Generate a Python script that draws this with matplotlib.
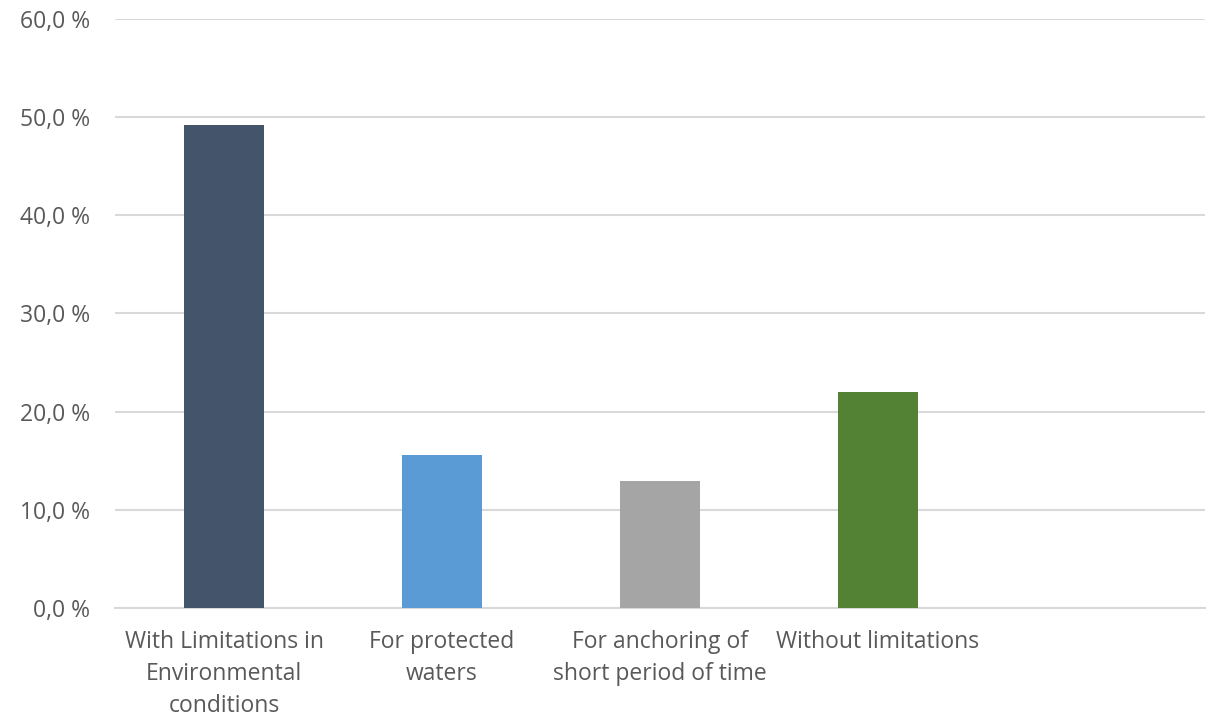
import matplotlib.pyplot as plt
from matplotlib.ticker import FuncFormatter

# Veriler
kategoriler = ['With Limitations in\nEnvironmental\nconditions', 'For protected\nwaters',
               'For anchoring of\nshort period of time', 'Without limitations', '']
degerler = [49.2, 15.6, 12.9, 22.0, 0.0]
renkler = ['#44546A', '#5B9BD5', '#A5A5A5', '#548235', '#FFFFFF']

plt.rcParams['font.family'] = ['Open Sans', 'DejaVu Sans']

fig = plt.figure(figsize=(12.12, 7.19), dpi=100)
ax = fig.add_axes([0.0949, 0.1544, 0.8993, 0.8192])

x = range(len(kategoriler))
ax.bar(x, degerler, width=0.37, color=renkler, zorder=3)

ax.set_xlim(-0.5, len(kategoriler) - 0.5)
ax.set_ylim(0, 60)
ax.set_yticks(range(0, 61, 10))
ax.yaxis.set_major_formatter(FuncFormatter(lambda v, p: f"{v:.1f}".replace('.', ',') + ' %'))

ax.set_xticks(list(x))
ax.set_xticklabels(kategoriler, linespacing=1.45)

ax.grid(axis='y', color='#D9D9D9', linewidth=1.5, zorder=0)
for s in ['top', 'right', 'left']:
    ax.spines[s].set_visible(False)
ax.spines['bottom'].set_color('#D9D9D9')
ax.spines['bottom'].set_linewidth(1.5)

ax.tick_params(axis='both', length=0, labelsize=16.5, labelcolor='#595959')
ax.tick_params(axis='y', pad=18)
ax.tick_params(axis='x', pad=16)

fig.savefig('out.png', dpi=100)
